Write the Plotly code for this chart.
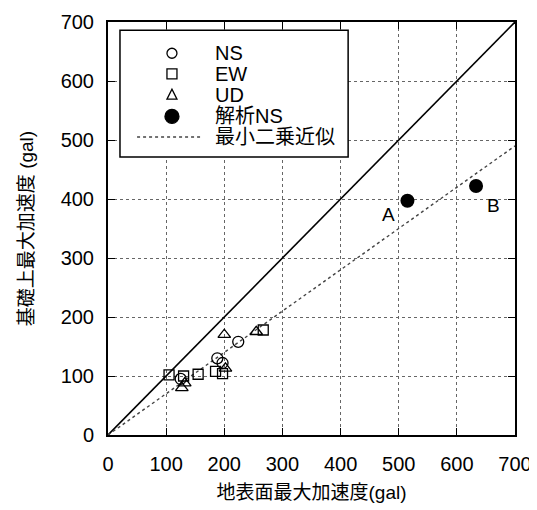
import plotly.graph_objects as go

# data (gal)
ns_x = [125, 188, 197, 224]
ns_y = [95, 130, 122, 158]
ew_x = [105, 130, 155, 185, 197, 267]
ew_y = [102, 100, 103, 108, 104, 178]
ud_x = [127, 132, 200, 202, 255]
ud_y = [80, 88, 170, 113, 175]
an_x = [515, 633]
an_y = [397, 422]
an_labels = ["A", "B"]
fit_x = [0, 700]
fit_y = [0, 490]
one_x = [0, 700]
one_y = [0, 700]
ticks = [0, 100, 200, 300, 400, 500, 600, 700]
legend_names = ["NS", "EW", "UD", "解析NS", "最小二乗近似"]

FONT = "Liberation Sans, Arial, Noto Sans CJK JP, sans-serif"
BLACK = "black"

fig = go.Figure()
fig.add_trace(go.Scatter(x=one_x, y=one_y, mode="lines", line=dict(color=BLACK, width=1.6),
                         hoverinfo="skip"))
fig.add_trace(go.Scatter(x=fit_x, y=fit_y, mode="lines", name=legend_names[4],
                         line=dict(color="#444", width=1.4, dash="dot")))
fig.add_trace(go.Scatter(x=ns_x, y=ns_y, mode="markers", name=legend_names[0],
                         marker=dict(symbol="circle-open", size=11, color=BLACK, line=dict(width=1.3))))
fig.add_trace(go.Scatter(x=ew_x, y=ew_y, mode="markers", name=legend_names[1],
                         marker=dict(symbol="square-open", size=10, color=BLACK, line=dict(width=1.3))))
fig.add_trace(go.Scatter(x=ud_x, y=ud_y, mode="markers", name=legend_names[2],
                         marker=dict(symbol="triangle-up-open", size=11, color=BLACK, line=dict(width=1.3))))
fig.add_trace(go.Scatter(x=an_x, y=an_y, mode="markers", name=legend_names[3],
                         marker=dict(symbol="circle", size=14, color=BLACK)))

for lx, ly, t, dx, dy in zip(an_x, an_y, an_labels, [-19, 17], [-14, -19]):
    fig.add_annotation(x=lx, y=ly, text=t, showarrow=False, xshift=dx, yshift=dy,
                       font=dict(size=19, color=BLACK, family=FONT))

# ---- legend box (drawn as layout shapes + text) ----
box = dict(x0=20.6, x1=413, y0=471, y1=686)
fig.add_shape(type="rect", xref="x", yref="y", **box, fillcolor="white",
              line=dict(color=BLACK, width=1.5), layer="above")
row_y = [647, 612, 576, 540, 505]
sym_x = 110
txt_x = 181
for name, ry in zip(legend_names, row_y):
    fig.add_annotation(x=txt_x, y=ry, text=name, showarrow=False, xanchor="left",
                       font=dict(size=20, color=BLACK, family=FONT))
sym_styles = [("circle", 10, "white"), ("rect", 10, "white"), ("tri", 10, "white"),
              ("circle", 14, BLACK)]
for (kind, s, fill), ry in zip(sym_styles, row_y[:4]):
    if kind == "tri":
        fig.add_shape(type="path", xref="x", yref="y", xsizemode="pixel", ysizemode="pixel",
                      xanchor=sym_x, yanchor=ry,
                      path=f"M{-s/2},{-s/2+1} L{s/2},{-s/2+1} L0,{s/2+1} Z",
                      fillcolor=fill, line=dict(color=BLACK, width=1.3), layer="above")
    else:
        fig.add_shape(type=kind, xref="x", yref="y", xsizemode="pixel", ysizemode="pixel",
                      xanchor=sym_x, yanchor=ry, x0=-s/2, x1=s/2, y0=-s/2, y1=s/2,
                      fillcolor=fill, line=dict(color=BLACK, width=1.3), layer="above")
fig.add_shape(type="line", xref="x", yref="y", x0=50, x1=162, y0=row_y[4], y1=row_y[4],
              line=dict(color="#444", width=1.4, dash="dot"), layer="above")

axis_common = dict(range=[0, 700], tickvals=ticks, showgrid=True, gridcolor="#666",
                   griddash="dot", gridwidth=1, zeroline=False, showline=True,
                   linecolor=BLACK, linewidth=2, mirror="ticks", ticks="inside",
                   ticklen=7, tickcolor=BLACK, tickwidth=1.3, automargin=False,
                   tickfont=dict(size=20, color=BLACK, family=FONT))

fig.update_xaxes(**axis_common, ticklabelstandoff=10,
                 title=dict(text="地表面最大加速度(gal)", standoff=12,
                            font=dict(size=19, color=BLACK, family=FONT)))
fig.update_yaxes(**axis_common, ticklabelstandoff=8,
                 title=dict(text="基礎上最大加速度 (gal)", standoff=22,
                            font=dict(size=19, color=BLACK, family=FONT)))

fig.update_layout(
    width=537, height=510,
    margin=dict(l=100, r=30, t=14, b=83),
    paper_bgcolor="white", plot_bgcolor="white",
    showlegend=False,
)

fig.write_html("out.html")
